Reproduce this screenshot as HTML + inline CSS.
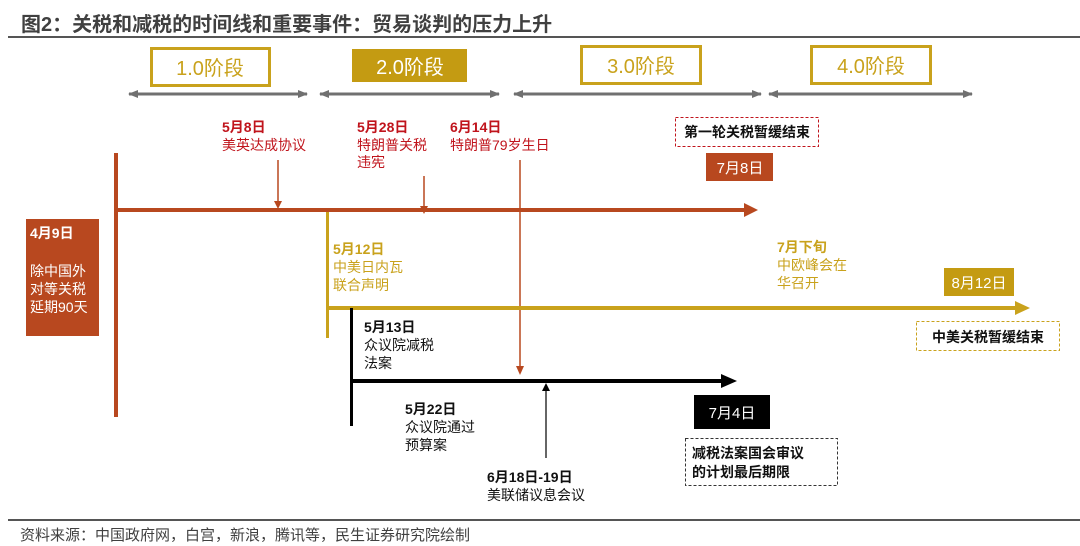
<!DOCTYPE html>
<html><head><meta charset="utf-8"><style>
body{margin:0;background:#fff}
svg{display:block}
text{font-family:"Liberation Sans","Noto Sans CJK SC",sans-serif}
</style></head><body>
<svg width="1080" height="546" viewBox="0 0 1080 546" xmlns="http://www.w3.org/2000/svg">
<defs>
<marker id="ag" markerWidth="10" markerHeight="10" refX="9" refY="5" orient="auto-start-reverse" markerUnits="userSpaceOnUse"><path d="M0,1L10,5L0,9z" fill="#707070"/></marker>
</defs>
<text x="21" y="31" font-size="20" font-weight="bold" fill="#404040">图2：关税和减税的时间线和重要事件：贸易谈判的压力上升</text>
<rect x="8" y="36" width="1072" height="2" fill="#555"/>
<rect x="151.5" y="48.5" width="118" height="37" fill="none" stroke="#c9a21c" stroke-width="3"/>
<text x="210" y="75" font-size="20" fill="#c9a21c" text-anchor="middle">1.0阶段</text>
<rect x="352" y="49" width="115" height="33" fill="#c49b12"/>
<text x="410" y="74" font-size="20" fill="#fff" text-anchor="middle">2.0阶段</text>
<rect x="581.5" y="46.5" width="119" height="37" fill="none" stroke="#c9a21c" stroke-width="3"/>
<text x="641" y="73" font-size="20" fill="#c9a21c" text-anchor="middle">3.0阶段</text>
<rect x="811.5" y="46.5" width="119" height="37" fill="none" stroke="#c9a21c" stroke-width="3"/>
<text x="871" y="73" font-size="20" fill="#c9a21c" text-anchor="middle">4.0阶段</text>
<g stroke="#707070" stroke-width="3" fill="none">
<line x1="129" y1="94" x2="307" y2="94" marker-start="url(#ag)" marker-end="url(#ag)"/>
<line x1="320" y1="94" x2="499" y2="94" marker-start="url(#ag)" marker-end="url(#ag)"/>
<line x1="514" y1="94" x2="761" y2="94" marker-start="url(#ag)" marker-end="url(#ag)"/>
<line x1="769" y1="94" x2="972" y2="94" marker-start="url(#ag)" marker-end="url(#ag)"/>
</g>
<g font-size="14" fill="#c0141c">
<text x="222" y="132" font-weight="bold">5月8日</text>
<text x="222" y="150">美英达成协议</text>
<text x="357" y="132" font-weight="bold">5月28日</text>
<text x="357" y="150">特朗普关税</text>
<text x="357" y="167">违宪</text>
<text x="450" y="132" font-weight="bold">6月14日</text>
<text x="450" y="150">特朗普79岁生日</text>
</g>
<rect x="114" y="153" width="4" height="264" fill="#b8481f"/>
<rect x="116" y="208" width="630" height="4" fill="#b8481f"/>
<path d="M744,203L758,210L744,217z" fill="#b8481f"/>
<line x1="278" y1="160" x2="278" y2="202" stroke="#b8481f" stroke-width="1.5"/>
<path d="M274,201L282,201L278,209z" fill="#b8481f"/>
<line x1="424" y1="176" x2="424" y2="210" stroke="#b8481f" stroke-width="1.5"/>
<path d="M420,206L428,206L424,214z" fill="#b8481f"/>
<line x1="520" y1="160" x2="520" y2="366" stroke="#b8481f" stroke-width="1.5"/>
<path d="M516,366L524,366L520,375z" fill="#b8481f"/>
<rect x="26" y="219" width="73" height="117" fill="#b8481f"/>
<text x="30" y="238" font-size="14" font-weight="bold" fill="#fff">4月9日</text>
<g font-size="14" fill="#fff"><text x="30" y="276">除中国外</text><text x="30" y="294">对等关税</text><text x="30" y="312">延期90天</text></g>
<rect x="675.5" y="117.5" width="143" height="29" fill="none" stroke="#c0141c" stroke-dasharray="3,2"/>
<text x="747" y="137" font-size="14" font-weight="bold" fill="#111" text-anchor="middle">第一轮关税暂缓结束</text>
<rect x="706" y="153" width="67" height="28" fill="#b8481f"/>
<text x="740" y="173" font-size="15" fill="#fff" text-anchor="middle">7月8日</text>
<rect x="326" y="212" width="3" height="126" fill="#c9a21c"/>
<rect x="327" y="306" width="690" height="4" fill="#c9a21c"/>
<path d="M1015,301L1030,308L1015,315z" fill="#c9a21c"/>
<g font-size="14" fill="#c9a21c">
<text x="333" y="254" font-weight="bold">5月12日</text>
<text x="333" y="272">中美日内瓦</text>
<text x="333" y="290">联合声明</text>
<text x="777" y="252" font-weight="bold">7月下旬</text>
<text x="777" y="270">中欧峰会在</text>
<text x="777" y="288">华召开</text>
</g>
<rect x="944" y="268" width="70" height="28" fill="#c49b12"/>
<text x="979" y="288" font-size="15" fill="#fff" text-anchor="middle">8月12日</text>
<rect x="916.5" y="321.5" width="143" height="29" fill="none" stroke="#c9a21c" stroke-dasharray="3,2"/>
<text x="988" y="342" font-size="14" font-weight="bold" fill="#111" text-anchor="middle">中美关税暂缓结束</text>
<rect x="350" y="308" width="3" height="118" fill="#000"/>
<rect x="351" y="379" width="372" height="4" fill="#000"/>
<path d="M721,374L737,381L721,388z" fill="#000"/>
<line x1="546" y1="458" x2="546" y2="390" stroke="#333" stroke-width="1.5"/>
<path d="M542,391L550,391L546,383z" fill="#000"/>
<g font-size="14" fill="#111">
<text x="364" y="332" font-weight="bold">5月13日</text>
<text x="364" y="350">众议院减税</text>
<text x="364" y="368">法案</text>
<text x="405" y="414" font-weight="bold">5月22日</text>
<text x="405" y="432">众议院通过</text>
<text x="405" y="450">预算案</text>
<text x="487" y="482" font-weight="bold">6月18日-19日</text>
<text x="487" y="500">美联储议息会议</text>
</g>
<rect x="694" y="395" width="76" height="34" fill="#000"/>
<text x="732" y="418" font-size="15" fill="#fff" text-anchor="middle">7月4日</text>
<rect x="685.5" y="438.5" width="152" height="47" fill="none" stroke="#333" stroke-dasharray="3,2"/>
<g font-size="14" font-weight="bold" fill="#111"><text x="692" y="458">减税法案国会审议</text><text x="692" y="477">的计划最后期限</text></g>
<rect x="8" y="519" width="1072" height="2" fill="#555"/>
<text x="20" y="540" font-size="15" fill="#404040">资料来源：中国政府网，白宫，新浪，腾讯等，民生证券研究院绘制</text>
</svg>
</body></html>
